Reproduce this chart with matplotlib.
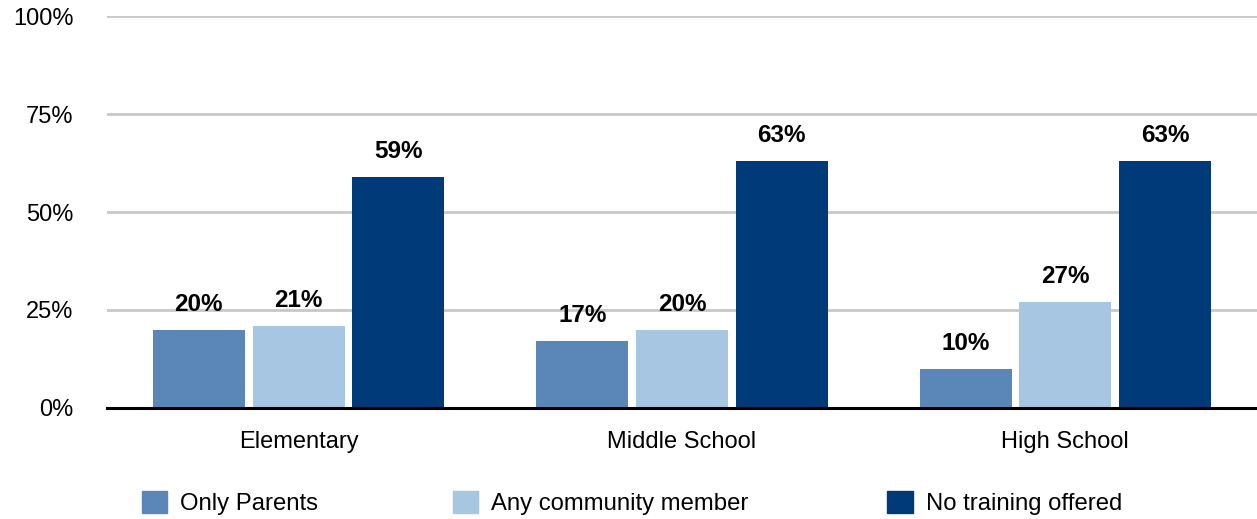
import matplotlib

matplotlib.use("Agg")
import matplotlib.pyplot as plt
import numpy as np
from matplotlib.patches import Patch

plt.rcParams['font.family'] = ['Liberation Sans', 'DejaVu Sans']

categories = ["Elementary", "Middle School", "High School"]
series_names = ["Only Parents", "Any community member", "No training offered"]
only_parents = [20, 17, 10]
any_community = [21, 20, 27]
no_training = [59, 63, 63]
y_ticks = [0, 25, 50, 75, 100]
y_tick_labels = ["0%", "25%", "50%", "75%", "100%"]

colors = ["#5b87b8", "#a7c6e1", "#003a78"]

fig = plt.figure(figsize=(12.57, 5.19), dpi=100)
ax = fig.add_axes([0.085, 0.214, 0.915, 0.755])

x = np.arange(len(categories))
width = 0.24
offsets = [-0.26, 0, 0.26]

for vals, off, col in zip([only_parents, any_community, no_training], offsets, colors):
    bars = ax.bar(x + off, vals, width=width, color=col, zorder=3)
    for b, v in zip(bars, vals):
        ax.annotate(f"{v}%", (b.get_x() + b.get_width() / 2, b.get_height()),
                    xytext=(0, 10), textcoords="offset points",
                    ha="center", va="bottom", fontsize=17.5, fontweight="bold")

ax.set_xlim(-0.5, 2.5)
ax.set_ylim(0, 100)
ax.set_yticks(y_ticks)
ax.set_yticklabels(y_tick_labels)
ax.set_xticks(x)
ax.set_xticklabels(categories)
ax.tick_params(axis="both", length=0, labelsize=17)
ax.tick_params(axis="y", pad=24)
ax.tick_params(axis="x", pad=16.5)
ax.yaxis.grid(True, color="#c8c8c8", linewidth=2, zorder=0)
for s in ["top", "right", "left"]:
    ax.spines[s].set_visible(False)
ax.spines["bottom"].set_linewidth(2.2)
ax.spines["bottom"].set_color("black")
ax.spines["bottom"].set_zorder(4)

legend_x = [0.113, 0.360, 0.706]
for name, col, lx in zip(series_names, colors, legend_x):
    fig.legend(handles=[Patch(color=col)], labels=[name], loc="center left",
               bbox_to_anchor=(lx, 0.031), frameon=False, fontsize=17.2,
               handlelength=1.05, handleheight=1.05, handletextpad=0.55,
               borderpad=0, borderaxespad=0)

fig.savefig("out.png", dpi=100)
